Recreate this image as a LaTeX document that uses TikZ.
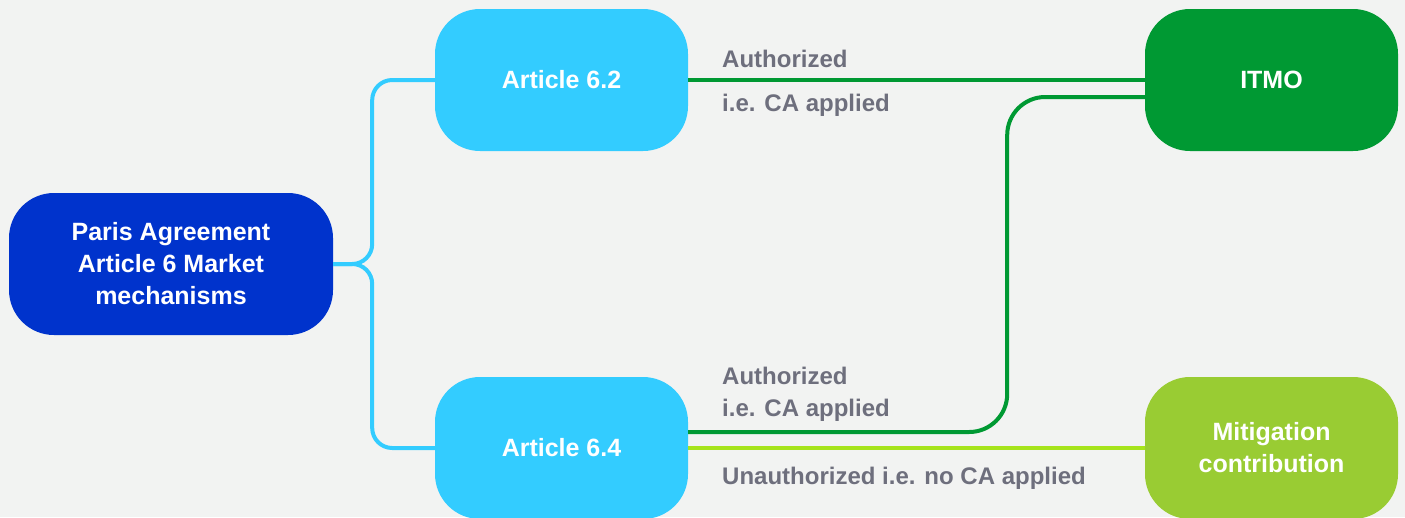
\documentclass[tikz,border=0pt]{standalone}
\usepackage{fontspec}
\setmainfont{Liberation Sans}
\definecolor{bgc}{RGB}{242,243,242}
\definecolor{deepblue}{RGB}{0,51,204}
\definecolor{skyc}{RGB}{51,204,255}
\definecolor{greenc}{RGB}{0,153,51}
\definecolor{limebox}{RGB}{153,204,51}
\definecolor{limeline}{RGB}{166,228,28}
\definecolor{labelc}{RGB}{110,111,125}
\begin{document}
\begin{tikzpicture}[x=1pt,y=-1pt,
  box/.style={rounded corners=45pt, minimum width=253pt, minimum height=142pt,
    inner sep=0pt, text=white, align=center,
    font=\fontsize{25}{32}\selectfont\bfseries},
  lbl/.style={anchor=base west, inner sep=0pt, text=labelc,
    font=\fontsize{24}{28}\selectfont\bfseries},
  conn/.style={line width=4pt}
]
\useasboundingbox[fill=bgc] (0,0) rectangle (1405,517);
\node[box, fill=deepblue, minimum width=324pt] (paris) at (171,264) {Paris Agreement\\Article 6 Market\\mechanisms};
\node[box, fill=skyc] (a62) at (561.5,80) {Article 6.2};
\node[box, fill=skyc] (a64) at (561.5,448) {Article 6.4};
\node[box, fill=greenc] (itmo) at (1271.5,80) {ITMO};
\node[box, fill=limebox] (mit) at (1271.5,448) {Mitigation\\contribution};

\draw[conn, skyc, rounded corners=20pt] (paris.east) -- ++(39,0) |- (a62.west);
\draw[conn, skyc, rounded corners=20pt] (paris.east) -- ++(39,0) |- (a64.west);
\draw[conn, greenc] (a62.east) -- (itmo.west);
\draw[conn, greenc, rounded corners=38pt] ([yshift=16pt]a64.east) -- ++(319,0) |- ([yshift=-17pt]itmo.west);
\draw[conn, limeline] (a64.east) -- (mit.west);

\node[lbl] (l1) at (722,67) {Authorized};
\node[lbl] (l2) at (722,111) {i.e. CA applied};
\node[lbl] (l3) at (722,384) {Authorized};
\node[lbl] (l4) at (722,416) {i.e. CA applied};
\node[lbl] (l5) at (722,484) {Unauthorized i.e. no CA applied};
\end{tikzpicture}
\end{document}
